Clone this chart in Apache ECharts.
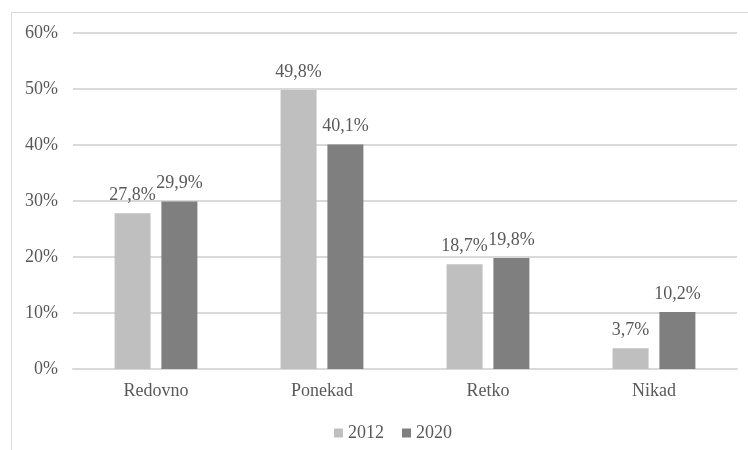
<!DOCTYPE html>
<html>
<head>
<meta charset="utf-8">
<script src="https://cdn.jsdelivr.net/npm/echarts@6/dist/echarts.min.js"></script>
<style>html,body{margin:0;padding:0;background:#fff;}#c{width:748px;height:450px;}</style>
</head>
<body>
<div id="c"></div>
<script>
var categories = ['Redovno', 'Ponekad', 'Retko', 'Nikad'];
var seriesNames = ['2012', '2020'];
var values2012 = [27.8, 49.8, 18.7, 3.7];
var values2020 = [29.9, 40.1, 19.8, 10.2];
var yTicks = [0, 10, 20, 30, 40, 50, 60];

var font = '"Liberation Serif", "Times New Roman", serif';
var txt = '#595959';
var fs = 18;
var chart = echarts.init(document.getElementById('c'), null, {renderer: 'canvas'});
function lab() {
  return {
    show: true, position: 'top', distance: 9,
    fontFamily: font, fontSize: fs, color: txt,
    formatter: function (p) { return String(p.value).replace('.', ',') + '%'; }
  };
}
chart.setOption({
  animation: false,
  graphic: [{
    type: 'rect', left: 9, top: 10, silent: true,
    shape: {width: 800, height: 500},
    style: {fill: 'none', stroke: '#d9d9d9', lineWidth: 1}
  }],
  grid: {left: 73, right: 11, top: 33, bottom: 81},
  legend: {
    data: seriesNames, left: 329, top: 419,
    itemWidth: 9, itemHeight: 9, itemGap: 18,
    icon: 'rect',
    textStyle: {fontFamily: font, fontSize: fs, color: txt}
  },
  xAxis: {
    type: 'category', data: categories,
    axisLine: {show: true, lineStyle: {color: '#d9d9d9', width: 2}},
    axisTick: {show: false},
    axisLabel: {fontFamily: font, fontSize: fs, color: txt, margin: 13}
  },
  yAxis: {
    type: 'value', min: yTicks[0], max: yTicks[yTicks.length - 1], interval: 10,
    axisLine: {show: false}, axisTick: {show: false},
    splitLine: {lineStyle: {color: '#d9d9d9', width: 2}},
    axisLabel: {fontFamily: font, fontSize: fs, color: txt, margin: 15, formatter: '{value}%'}
  },
  series: [
    {name: seriesNames[0], type: 'bar', data: values2012, barWidth: 36, barGap: '30%',
     itemStyle: {color: '#bfbfbf'}, label: lab()},
    {name: seriesNames[1], type: 'bar', data: values2020, barWidth: 36, barGap: '30%',
     itemStyle: {color: '#7f7f7f'}, label: lab()}
  ]
});
</script>
</body>
</html>
